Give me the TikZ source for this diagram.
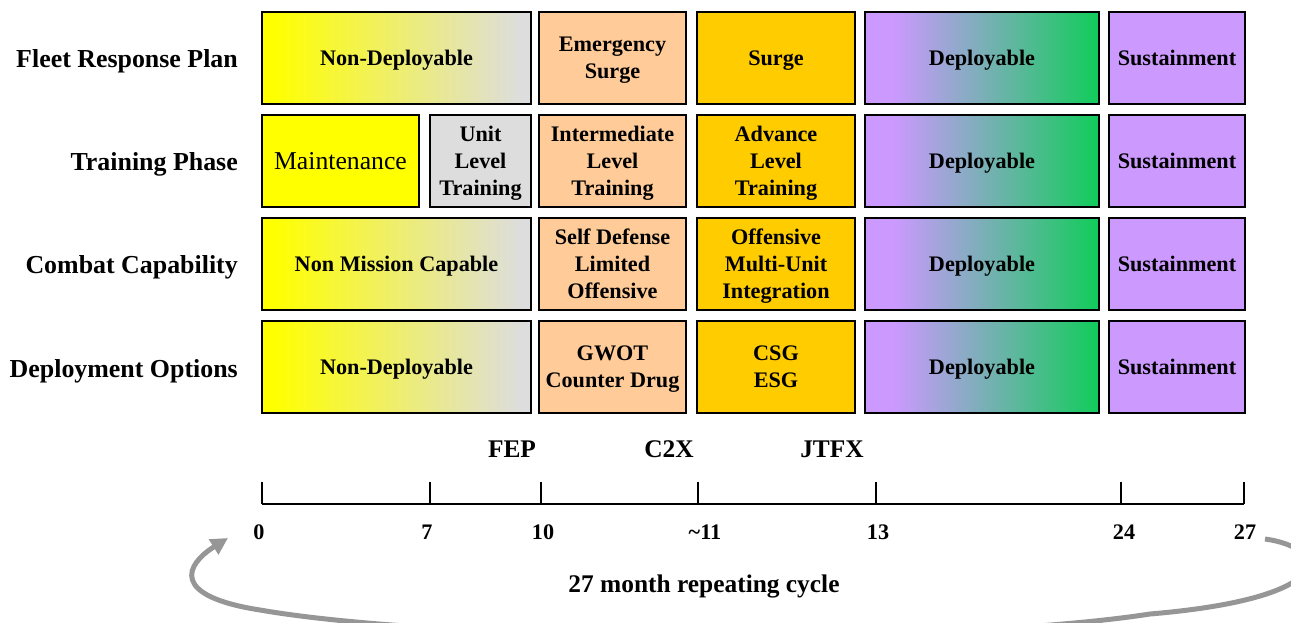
\documentclass[tikz,border=0pt]{standalone}
\usepackage{fontspec}
\setmainfont{Liberation Serif}
\usepackage{xcolor}
\usetikzlibrary{arrows.meta}

\definecolor{frpyellow}{RGB}{255,255,0}
\definecolor{frpgray}{RGB}{221,221,221}
\definecolor{frppeach}{RGB}{255,204,153}
\definecolor{frporange}{RGB}{255,204,0}
\definecolor{frppurple}{RGB}{204,153,255}
\definecolor{frpgreen}{RGB}{17,204,90}
\definecolor{cyclegray}{RGB}{150,150,150}

\pgfdeclarehorizontalshading{nondepshade}{100bp}{color(0bp)=(frpyellow); color(27bp)=(frpyellow); color(73bp)=(frpgray); color(100bp)=(frpgray)}
\pgfdeclarehorizontalshading{depshade}{100bp}{color(0bp)=(frppurple); color(31bp)=(frppurple); color(75bp)=(frpgreen); color(100bp)=(frpgreen)}

\begin{document}
\begin{tikzpicture}[x=1pt,y=-1pt,
    cell/.style={draw=black, line width=1.5pt, inner sep=0pt, align=center, text depth=-3pt,
      minimum height=92pt, font=\fontsize{22.2}{27}\selectfont\bfseries},
    rowlabel/.style={anchor=east, inner sep=0pt, text depth=0pt, font=\fontsize{25.9}{30}\selectfont\bfseries},
    ticklabel/.style={inner sep=0pt, font=\fontsize{22.2}{27}\selectfont\bfseries},
    eventlabel/.style={inner sep=0pt, font=\fontsize{25.4}{30}\selectfont\bfseries}]
                \useasboundingbox (0,0) rectangle (1291,623);

                % repeating cycle arrow
                \coordinate (cycstart) at (1265,539);
                \coordinate (cycend) at (228,538);
                \draw[cyclegray, line width=5pt, -{Triangle[length=17pt,width=17pt]}]
                    (cycstart) .. controls (1330,548) and (1340,598) .. (1150,614)
                    .. controls (950,645) and (450,643) .. (260,610)
                    .. controls (170,596) and (185,565) .. (cycend);

                % Row labels
                \node[rowlabel] (frp) at (238,59) {Fleet Response Plan};
                \node[rowlabel] (train) at (238,162) {Training Phase};
                \node[rowlabel] (combat) at (238,265) {Combat Capability};
                \node[rowlabel] (deploy) at (238,369) {Deployment Options};

                % Fleet Response Plan
                \node[cell, shade, shading=nondepshade, minimum width=269pt] (frpA) at (396.5,58) {Non-Deployable};
                \node[cell, fill=frppeach, minimum width=147pt] (frpB) at (612.5,58) {Emergency\\Surge};
                \node[cell, fill=frporange, minimum width=158pt] (frpC) at (776,58) {Surge};
                \node[cell, shade, shading=depshade, minimum width=234pt] (frpD) at (982,58) {Deployable};
                \node[cell, fill=frppurple, minimum width=136pt] (frpE) at (1177,58) {Sustainment};

                % Training Phase
                \node[cell, fill=frpyellow, minimum width=157pt, font=\fontsize{25.7}{30}\selectfont] (trainA) at (340.5,161) {Maintenance};
                \node[cell, fill=frpgray, minimum width=101pt] (trainA2) at (480.5,161) {Unit\\Level\\Training};
                \node[cell, fill=frppeach, minimum width=147pt] (trainB) at (612.5,161) {Intermediate\\Level\\Training};
                \node[cell, fill=frporange, minimum width=158pt] (trainC) at (776,161) {Advance\\Level\\Training};
                \node[cell, shade, shading=depshade, minimum width=234pt] (trainD) at (982,161) {Deployable};
                \node[cell, fill=frppurple, minimum width=136pt] (trainE) at (1177,161) {Sustainment};

                % Combat Capability
                \node[cell, shade, shading=nondepshade, minimum width=269pt] (combatA) at (396.5,264) {Non Mission Capable};
                \node[cell, fill=frppeach, minimum width=147pt] (combatB) at (612.5,264) {Self Defense\\Limited\\Offensive};
                \node[cell, fill=frporange, minimum width=158pt] (combatC) at (776,264) {Offensive\\Multi-Unit\\Integration};
                \node[cell, shade, shading=depshade, minimum width=234pt] (combatD) at (982,264) {Deployable};
                \node[cell, fill=frppurple, minimum width=136pt] (combatE) at (1177,264) {Sustainment};

                % Deployment Options
                \node[cell, shade, shading=nondepshade, minimum width=269pt] (deployA) at (396.5,367) {Non-Deployable};
                \node[cell, fill=frppeach, minimum width=147pt] (deployB) at (612.5,367) {GWOT\\Counter Drug};
                \node[cell, fill=frporange, minimum width=158pt] (deployC) at (776,367) {CSG\\ESG};
                \node[cell, shade, shading=depshade, minimum width=234pt] (deployD) at (982,367) {Deployable};
                \node[cell, fill=frppurple, minimum width=136pt] (deployE) at (1177,367) {Sustainment};

                % Exercises
                \node[eventlabel] (fep) at (512,449) {FEP};
                \node[eventlabel] (ctwox) at (669,449) {C2X};
                \node[eventlabel] (jtfx) at (832,449) {JTFX};

                % Time axis
                \draw[line width=1.5pt] (262,504) -- (1244,504);
                % axis ticks
                \draw[line width=1.5pt] (262,482) -- (262,504);
                \draw[line width=1.5pt] (430,482) -- (430,504);
                \draw[line width=1.5pt] (541,482) -- (541,504);
                \draw[line width=1.5pt] (698,482) -- (698,504);
                \draw[line width=1.5pt] (876,482) -- (876,504);
                \draw[line width=1.5pt] (1121,482) -- (1121,504);
                \draw[line width=1.5pt] (1244,482) -- (1244,504);

                % Month markers
                \node[ticklabel] (m0) at (259,532) {0};
                \node[ticklabel] (m7) at (427,532) {7};
                \node[ticklabel] (m10) at (543,532) {10};
                \node[ticklabel] (m11) at (705,532) {\textasciitilde11};
                \node[ticklabel] (m13) at (878,532) {13};
                \node[ticklabel] (m24) at (1124,532) {24};
                \node[ticklabel] (m27) at (1245,532) {27};

                \node[eventlabel] (cycle) at (704,586) {27 month repeating cycle};
            \end{tikzpicture}
\end{document}
